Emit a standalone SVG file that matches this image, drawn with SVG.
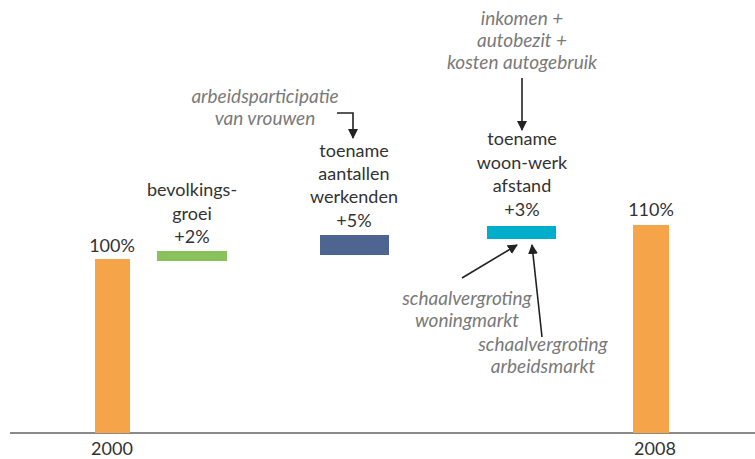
<svg xmlns="http://www.w3.org/2000/svg" width="755" height="459" viewBox="0 0 755 459">
<style>
.t{font-family:Lato,"Open Sans","Liberation Sans",sans-serif;font-size:18px;fill:#333;text-anchor:middle}
.i{font-family:Lato,"Open Sans","Liberation Sans",sans-serif;font-size:19px;fill:#7a7a7a;font-style:italic;text-anchor:middle}
.c{stroke:#222;stroke-width:1.6;fill:none}
</style>
<defs>
<marker id="ah2" viewBox="0 0 10 10" refX="9" refY="5" markerWidth="10" markerHeight="10" orient="auto" markerUnits="userSpaceOnUse">
<path d="M0,0 L10,5 L0,10 z" fill="#222"/>
</marker>
</defs>
<line x1="10" y1="433" x2="755" y2="433" stroke="#8a8a8a" stroke-width="2"/>
<g id="bar2000">
<rect x="95" y="259" width="35" height="174" fill="#F5A44A"/>
<text class="t" x="112" y="252">100%</text>
<text class="t" x="112" y="455">2000</text>
</g>
<g id="bevolkingsgroei">
<rect x="157" y="251" width="70" height="10" fill="#8BC15A"/>
<text class="t" x="192" y="196">bevolkings-</text>
<text class="t" x="192" y="220">groei</text>
<text class="t" x="192" y="243">+2%</text>
</g>
<g id="werkenden">
<rect x="320" y="235" width="69" height="20" fill="#4E6592"/>
<text class="t" x="354" y="157">toename</text>
<text class="t" x="354" y="180">aantallen</text>
<text class="t" x="354" y="203">werkenden</text>
<text class="t" x="354" y="227">+5%</text>
</g>
<g id="arbeidsparticipatie">
<text class="i" x="265" y="103">arbeidsparticipatie</text>
<text class="i" x="265" y="125">van vrouwen</text>
</g>
<g id="woonwerk">
<rect x="487" y="226" width="69" height="13" fill="#00AECB"/>
<text class="t" x="522" y="145">toename</text>
<text class="t" x="522" y="169">woon-werk</text>
<text class="t" x="522" y="192">afstand</text>
<text class="t" x="522" y="216">+3%</text>
</g>
<g id="inkomen">
<text class="i" x="522" y="25">inkomen +</text>
<text class="i" x="522" y="47">autobezit +</text>
<text class="i" x="522" y="69">kosten autogebruik</text>
</g>
<g id="woningmarkt">
<text class="i" x="467" y="305">schaalvergroting</text>
<text class="i" x="467" y="327">woningmarkt</text>
</g>
<g id="arbeidsmarkt">
<text class="i" x="543" y="351">schaalvergroting</text>
<text class="i" x="543" y="373">arbeidsmarkt</text>
</g>
<g id="bar2008">
<rect x="633" y="225" width="36" height="208" fill="#F5A44A"/>
<text class="t" x="651" y="216">110%</text>
<text class="t" x="655" y="455">2008</text>
</g>
<g id="connectors">
<path class="c" d="M337,113 H353 V138" marker-end="url(#ah2)"/>
<path class="c" d="M522,78 V130" marker-end="url(#ah2)"/>
<path class="c" d="M462,278 L517,245" marker-end="url(#ah2)"/>
<path class="c" d="M542,337 L532,245" marker-end="url(#ah2)"/>
</g>
</svg>
